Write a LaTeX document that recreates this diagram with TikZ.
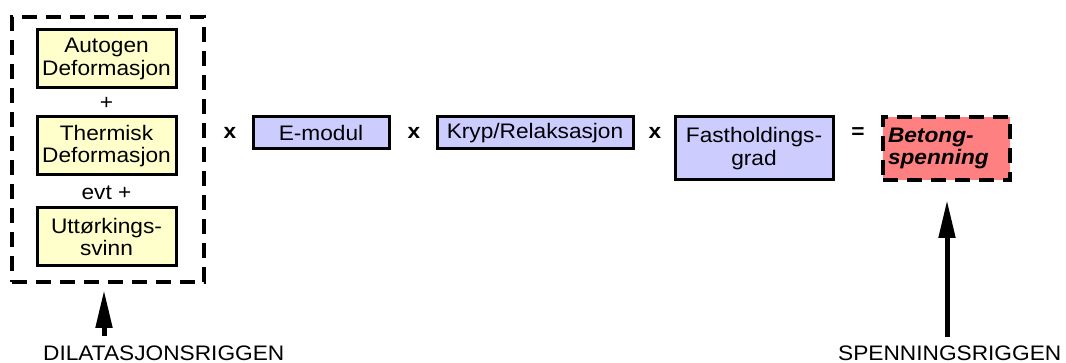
\documentclass[tikz,border=0pt]{standalone}
\usepackage{fontspec}
\setmainfont{Liberation Sans}[FakeStretch=1.08]
\usepackage{tikz}
\usetikzlibrary{arrows.meta,positioning,fit}

\definecolor{deffill}{RGB}{255,255,204}
\definecolor{facfill}{RGB}{204,204,255}
\definecolor{resfill}{RGB}{255,128,128}

\begin{document}
\begin{tikzpicture}[x=1pt, y=-1pt,
        every node/.style={font=\fontsize{21}{22.5}\selectfont, inner sep=0pt},
        defbox/.style={draw, line width=3pt, fill=deffill, align=center,
                minimum width=139pt, minimum height=58pt},
        facbox/.style={draw, line width=3pt, fill=facfill, align=center},
        rigbox/.style={draw, line width=3.5pt, dash pattern=on 15pt off 9pt},
        bigarrow/.style={line width=5pt, -{Triangle[length=38pt, width=16pt]}}]
        \useasboundingbox (0, 0) rectangle (1066, 363);

        % deformasjoner
        \node (auto) [defbox] at (106.5, 59) {Autogen\\Deformasjon};
        \node (plus) at (106.5, 103) {+};
        \node (thermisk) [defbox] at (106.5, 146) {Thermisk\\Deformasjon};
        \node (evt) at (106.5, 193) {evt +};
        \node (uttork) [defbox] at (106.5, 237) {Uttørkings-\\svinn};
        \node (dila) [rigbox, minimum width=192pt, minimum height=265pt] at (108, 149.5) {};

        % faktorer
        \node (emodul) [facbox, minimum width=136pt, minimum height=32pt] at (321, 133) {E-modul};
        \node (kryp) [facbox, minimum width=196pt, minimum height=32pt] at (535, 133) {Kryp/Relaksasjon};
        \node (fast) [facbox, minimum width=158pt, minimum height=63pt] at (754, 148.5) {Fastholdings-\\grad};
        \node (betong) [rigbox, fill=resfill, text width=117pt, inner xsep=5pt, align=left,
                minimum height=63pt, font=\fontsize{21}{22.5}\selectfont\bfseries\itshape]
                at (946.5, 148.5) {Betong-\\spenning};

        \foreach \pos/\sym in {230/x, 414/x, 655/x, 858/=}
                \node (op\pos) [font=\fontsize{21}{22.5}\selectfont\bfseries] at (\pos, 133) {\sym};

        % rigger
        \node (dilalabel) [anchor=base west] at (43, 360) {DILATASJONSRIGGEN};
        \node (spenlabel) [anchor=base west] at (838, 360) {SPENNINGSRIGGEN};
        \coordinate (dilatail) at (104, 336);
        \coordinate (dilatip) at (104, 290);
        \coordinate (spentail) at (947, 337);
        \coordinate (spentip) at (947, 200);
        \draw[bigarrow] (dilatail) -- (dilatip);
        \draw[bigarrow] (spentail) -- (spentip);
\end{tikzpicture}
\end{document}
